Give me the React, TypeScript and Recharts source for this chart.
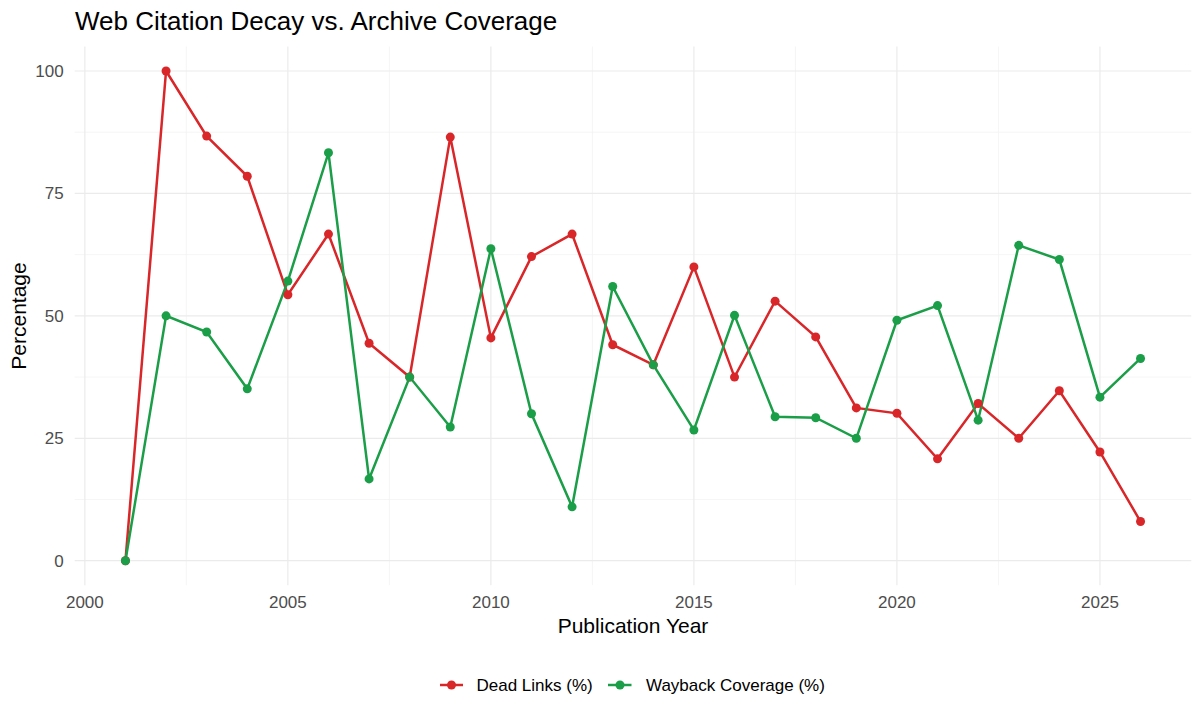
import React from "react";
import { LineChart, Line, XAxis, YAxis, CartesianGrid } from "recharts";

const years = [2001, 2002, 2003, 2004, 2005, 2006, 2007, 2008, 2009, 2010, 2011, 2012, 2013, 2014, 2015, 2016, 2017, 2018, 2019, 2020, 2021, 2022, 2023, 2024, 2025, 2026];
const deadLinks = [0, 100, 86.7, 78.5, 54.3, 66.7, 44.4, 37.5, 86.5, 45.5, 62.1, 66.7, 44.1, 40, 60, 37.5, 53, 45.7, 31.2, 30.1, 20.8, 32.1, 25, 34.7, 22.2, 8];
const wayback = [0, 50, 46.7, 35.1, 57.1, 83.3, 16.7, 37.5, 27.3, 63.7, 30, 11, 56, 40, 26.7, 50.1, 29.4, 29.2, 25, 49.1, 52.1, 28.7, 64.4, 61.5, 33.4, 41.3];

const xTicks = [2000, 2005, 2010, 2015, 2020, 2025];
const xMinor = [2002.5, 2007.5, 2012.5, 2017.5, 2022.5];
const yTicks = [0, 25, 50, 75, 100];
const yMinor = [12.5, 37.5, 62.5, 87.5];

const seriesNames = ["Dead Links (%)", "Wayback Coverage (%)"];
const RED = "#d92629";
const GREEN = "#1b9e48";

const data = years.map((y, i) => ({ year: y, dead: deadLinks[i], wayback: wayback[i] }));

const FONT = "'Liberation Sans', Arial, Helvetica, sans-serif";

export default function App() {
  return (
    <div style={{ position: "absolute", left: 0, top: 0, width: 1200, height: 720, background: "#fff", fontFamily: FONT }}>
      <LineChart
        width={1200}
        height={720}
        data={data}
        margin={{ top: 46.5, right: 8.7, bottom: 104.8, left: 34.7 }}
        style={{ fontFamily: FONT }}
      >
        <CartesianGrid
          horizontalValues={yMinor}
          verticalValues={xMinor}
          stroke="#f0f0f0"
          strokeWidth={0.7}
          syncWithTicks
        />
        <CartesianGrid stroke="#ebebeb" strokeWidth={1.2} syncWithTicks />
        <XAxis
          dataKey="year"
          type="number"
          domain={[1999.75, 2027.25]}
          ticks={xTicks}
          axisLine={false}
          tickLine={false}
          tickMargin={5}
          height={30}
          tick={{ fontSize: 17, fill: "#4d4d4d", fontFamily: FONT }}
          allowDataOverflow
        />
        <YAxis
          type="number"
          domain={[-5, 105]}
          ticks={yTicks}
          axisLine={false}
          tickLine={false}
          tickMargin={5}
          width={40}
          tick={{ fontSize: 17, fill: "#4d4d4d", fontFamily: FONT }}
          allowDataOverflow
        />
        <Line dataKey="dead" name={seriesNames[0]} stroke={RED} strokeWidth={2.5} dot={false} activeDot={false} isAnimationActive={false} legendType="none" />
        <Line dataKey="wayback" name={seriesNames[1]} stroke={GREEN} strokeWidth={2.5} dot={false} activeDot={false} isAnimationActive={false} legendType="none" />
        <Line dataKey="dead" stroke="none" dot={{ r: 4.5, fill: RED, stroke: "none" }} activeDot={false} isAnimationActive={false} legendType="none" />
        <Line dataKey="wayback" stroke="none" dot={{ r: 4.5, fill: GREEN, stroke: "none" }} activeDot={false} isAnimationActive={false} legendType="none" />
      </LineChart>
      <svg width={1200} height={720} style={{ position: "absolute", left: 0, top: 0, pointerEvents: "none" }}>
        <text x={75} y={30} fontSize={26} fontFamily={FONT} fill="#000">Web Citation Decay vs. Archive Coverage</text>
        <text x={633} y={632.5} fontSize={21} fontFamily={FONT} fill="#000" textAnchor="middle">Publication Year</text>
        <text x={25.5} y={316} fontSize={21} fontFamily={FONT} fill="#000" textAnchor="middle" transform="rotate(-90 25.5 316)">Percentage</text>
        <g transform="translate(440 670)">
          <line x1={0} y1={15} x2={23} y2={15} stroke={RED} strokeWidth={2.5} />
          <circle cx={11.5} cy={15} r={4.5} fill={RED} />
          <text x={36.5} y={21} fontSize={17} fontFamily={FONT} fill="#000">{seriesNames[0]}</text>
          <line x1={168} y1={15} x2={191.5} y2={15} stroke={GREEN} strokeWidth={2.5} />
          <circle cx={180} cy={15} r={4.5} fill={GREEN} />
          <text x={206} y={21} fontSize={17} fontFamily={FONT} fill="#000">{seriesNames[1]}</text>
        </g>
      </svg>
    </div>
  );
}
